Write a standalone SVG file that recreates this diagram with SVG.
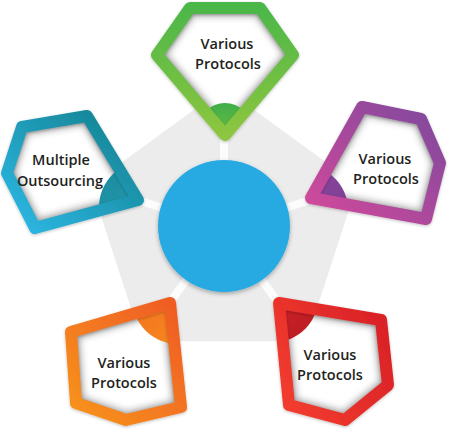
<svg xmlns="http://www.w3.org/2000/svg" xmlns:xlink="http://www.w3.org/1999/xlink" width="450" height="437" viewBox="0 0 450 437">
<style>
.lbl{font-family:"Open Sans","Liberation Sans",sans-serif;font-weight:600;font-size:14.5px;fill:#231F20;text-anchor:middle}
.frame{fill:none;stroke-width:12;stroke-linejoin:round}
.ishadow{fill:none;stroke:#000;stroke-opacity:.35;stroke-width:16;stroke-linejoin:round;filter:url(#blur)}
.gap{stroke:#fff;stroke-width:8;stroke-opacity:.85}
</style>
<defs>
<filter id="blur" x="-20%" y="-20%" width="140%" height="140%"><feGaussianBlur stdDeviation="3.5"/></filter>
<filter id="csh" x="-20%" y="-20%" width="140%" height="140%"><feDropShadow dx="0" dy="2" stdDeviation="2" flood-color="#000" flood-opacity=".3"/></filter>
<filter id="fsh" x="-20%" y="-20%" width="140%" height="140%"><feDropShadow dx="0" dy="1" stdDeviation="1.5" flood-color="#000" flood-opacity=".25"/></filter>
<path id="s-green" d="M190,8 L260,8 L293,55 L225,135 L157,55 Z"/>
<path id="s-teal" d="M87,116 L22,127 L7,173 L35,228 L138,200 Z"/>
<path id="s-purple" d="M362,107 L421,119 L440,163 L426,219 L311,198 Z"/>
<path id="s-orange" d="M170,303 L71,332 L76,403 L126,420 L181,407 Z"/>
<path id="s-red" d="M279,303 L381,320 L388,385 L345,420 L289,405 Z"/>
<clipPath id="c-green"><use xlink:href="#s-green"/></clipPath>
<clipPath id="c-teal"><use xlink:href="#s-teal"/></clipPath>
<clipPath id="c-purple"><use xlink:href="#s-purple"/></clipPath>
<clipPath id="c-orange"><use xlink:href="#s-orange"/></clipPath>
<clipPath id="c-red"><use xlink:href="#s-red"/></clipPath>
<linearGradient id="g-green" x1="0" y1="0" x2="0" y2="1"><stop offset="0" stop-color="#4CB748"/><stop offset="1" stop-color="#8DC63F"/></linearGradient>
<linearGradient id="g-teal" x1="1" y1="0" x2="0" y2="1"><stop offset="0" stop-color="#137F8C"/><stop offset="1" stop-color="#2DB9E6"/></linearGradient>
<linearGradient id="g-purple" x1="1" y1="0" x2="0" y2="1"><stop offset="0" stop-color="#7E4A9D"/><stop offset="1" stop-color="#D3489B"/></linearGradient>
<linearGradient id="g-orange" x1="1" y1="0" x2="0" y2="1"><stop offset="0" stop-color="#EF5A24"/><stop offset="1" stop-color="#F7941D"/></linearGradient>
<linearGradient id="g-red" x1="1" y1="0" x2="0" y2="0.6"><stop offset="0" stop-color="#D71F26"/><stop offset="1" stop-color="#F03A2E"/></linearGradient>
<linearGradient id="d-green" x1="0" y1="0" x2="0" y2="1"><stop offset="0" stop-color="#3FAE49"/><stop offset="1" stop-color="#8DC63F"/></linearGradient>
<linearGradient id="d-teal" x1="0" y1="0" x2="1" y2="1"><stop offset="0" stop-color="#1B8A9A"/><stop offset="1" stop-color="#2AA6C4"/></linearGradient>
<linearGradient id="d-purple" x1="0" y1="0" x2="1" y2="1"><stop offset="0" stop-color="#9B4AA0"/><stop offset="1" stop-color="#6E3C91"/></linearGradient>
<linearGradient id="d-orange" x1="0" y1="0" x2="1" y2="1"><stop offset="0" stop-color="#F26522"/><stop offset="1" stop-color="#F7941D"/></linearGradient>
<linearGradient id="d-red" x1="0" y1="0" x2="1" y2="1"><stop offset="0" stop-color="#E0262B"/><stop offset="1" stop-color="#B81C23"/></linearGradient>
</defs>
<rect width="450" height="437" fill="#fff"/>
<g id="hub">
<polygon points="224,88 357.1,184.7 306.3,341.3 141.7,341.3 90.9,184.7" fill="#ECECEC"/>
<g id="connectors">
<line class="gap" x1="224" y1="228" x2="224" y2="88"/>
<line class="gap" x1="224" y1="228" x2="357.1" y2="184.7"/>
<line class="gap" x1="224" y1="228" x2="306.3" y2="341.3"/>
<line class="gap" x1="224" y1="228" x2="141.7" y2="341.3"/>
<line class="gap" x1="224" y1="228" x2="90.9" y2="184.7"/>
</g>
<circle cx="224" cy="226" r="66" fill="#27AAE1" filter="url(#csh)"/>
</g>
<g id="node-green">
<use xlink:href="#s-green" fill="#fff"/>
<g clip-path="url(#c-green)"><use xlink:href="#s-green" class="ishadow"/><circle cx="225" cy="130" r="27" fill="url(#d-green)"/></g>
<use xlink:href="#s-green" class="frame" stroke="url(#g-green)" filter="url(#fsh)"/>
<text class="lbl" x="227" y="49">Various</text>
<text class="lbl" x="228" y="69">Protocols</text>
</g>
<g id="node-teal">
<use xlink:href="#s-teal" fill="#fff"/>
<g clip-path="url(#c-teal)"><use xlink:href="#s-teal" class="ishadow"/><circle cx="145" cy="207" r="46" fill="url(#d-teal)"/></g>
<use xlink:href="#s-teal" class="frame" stroke="url(#g-teal)" filter="url(#fsh)"/>
<text class="lbl" x="61" y="165">Multiple</text>
<text class="lbl" x="60" y="186">Outsourcing</text>
</g>
<g id="node-purple">
<use xlink:href="#s-purple" fill="#fff"/>
<g clip-path="url(#c-purple)"><use xlink:href="#s-purple" class="ishadow"/><circle cx="303" cy="210" r="45" fill="url(#d-purple)"/></g>
<use xlink:href="#s-purple" class="frame" stroke="url(#g-purple)" filter="url(#fsh)"/>
<text class="lbl" x="385" y="164">Various</text>
<text class="lbl" x="386" y="184">Protocols</text>
</g>
<g id="node-orange">
<use xlink:href="#s-orange" fill="#fff"/>
<g clip-path="url(#c-orange)"><use xlink:href="#s-orange" class="ishadow"/><circle cx="178" cy="298" r="46" fill="url(#d-orange)"/></g>
<use xlink:href="#s-orange" class="frame" stroke="url(#g-orange)" filter="url(#fsh)"/>
<text class="lbl" x="124" y="368">Various</text>
<text class="lbl" x="124" y="388">Protocols</text>
</g>
<g id="node-red">
<use xlink:href="#s-red" fill="#fff"/>
<g clip-path="url(#c-red)"><use xlink:href="#s-red" class="ishadow"/><circle cx="274" cy="298" r="44" fill="url(#d-red)"/></g>
<use xlink:href="#s-red" class="frame" stroke="url(#g-red)" filter="url(#fsh)"/>
<text class="lbl" x="330" y="360">Various</text>
<text class="lbl" x="330" y="380">Protocols</text>
</g>
</svg>
